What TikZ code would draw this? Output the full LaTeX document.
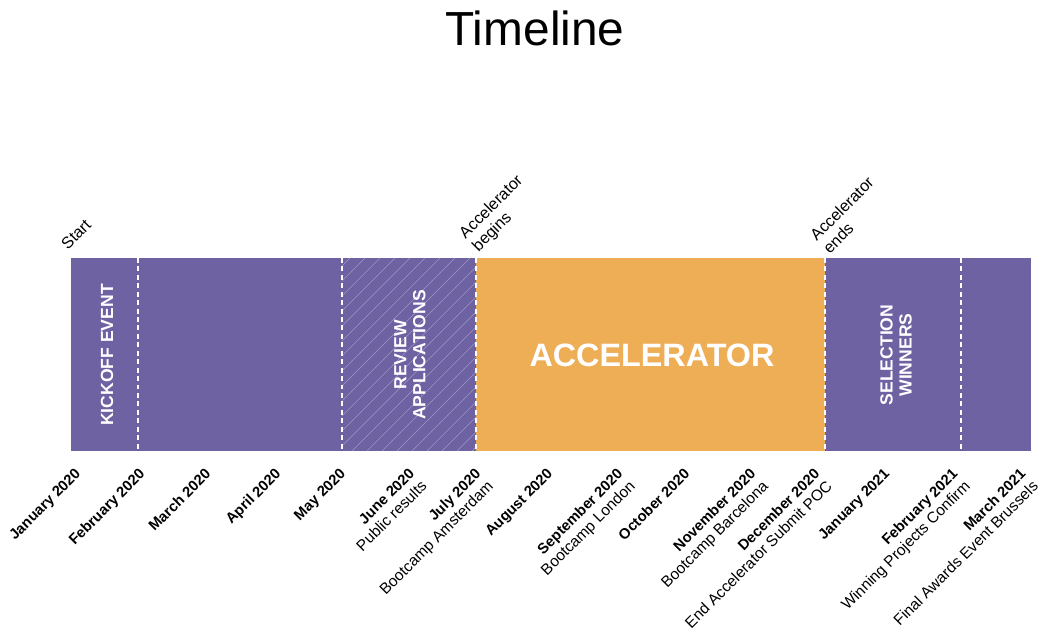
\documentclass[tikz,border=0pt]{standalone}
\usepackage{fontspec}
\setmainfont{Liberation Sans}
\usetikzlibrary{positioning}
\definecolor{phasepurple}{RGB}{110,98,163}
\definecolor{accorange}{RGB}{238,174,86}
\tikzstyle{title} = [font=\fontsize{34}{40}\selectfont, text=black]
\tikzstyle{phaselabel} = [rotate=90, align=center, text=white, font=\bfseries\fontsize{12.5}{13.5}\selectfont]
\tikzstyle{bigphase} = [text=white, font=\bfseries\fontsize{23}{26}\selectfont]
\tikzstyle{monthlabel} = [rotate=45, anchor=north east, align=right, inner sep=0.5pt, font=\fontsize{11}{12.5}\selectfont]
\tikzstyle{milestone} = [rotate=45, anchor=south west, align=left, inner sep=1pt, font=\fontsize{11.5}{13}\selectfont]
\tikzstyle{divider} = [white, line width=0.8pt, dash pattern=on 3.5pt off 2.5pt]
\tikzstyle{hatch} = [white, opacity=0.35, line width=0.4pt]
\newcommand{\mon}[1]{{\bfseries\fontsize{10.5}{12.5}\selectfont #1}}

\begin{document}
\begin{tikzpicture}[x=0.025cm, y=-0.025cm]
	\useasboundingbox (0,0) rectangle (1055,635);
	\node (title) [title] at (535,28) {Timeline};
	
	% bar
	\coordinate (barstart) at (68,253);
	\coordinate (accbegin) at (481,257);
	\coordinate (accend) at (830,257);
	\fill [phasepurple] (71,258) rectangle (476,451);
	\fill [accorange] (476,258) rectangle (825,451);
	\fill [phasepurple] (825,258) rectangle (1031,451);
	\begin{scope}
		\clip (342,258) rectangle (476,451);
		\foreach \i in {142,157,...,490}
			\draw [hatch] (\i,451) -- ++(210,-210);
	\end{scope}
	\foreach \x in {138,342,476,825,961}
		\draw [divider] (\x,258) -- (\x,451);
	
	\node (kickoff) [phaselabel] at (107,355) {KICKOFF EVENT};
	\node (review) [phaselabel] at (410,355) {REVIEW\\APPLICATIONS};
	\node (accel) [bigphase] at (652,355) {ACCELERATOR};
	\node (select) [phaselabel] at (896,355) {SELECTION\\WINNERS};
	
	% milestones above the bar
	\node (start) [milestone] at (barstart) {Start};
	\node (begins) [milestone] at (accbegin) {Accelerator\\begins};
	\node (ends) [milestone] at (accend) {Accelerator\\ends};
	
	% months below the bar
	\node (jan20) [monthlabel] at (74,466) {\mon{January 2020}};
	\node (feb20) [monthlabel] at (138,466) {\mon{February 2020}};
	\node (mar20) [monthlabel] at (204,466) {\mon{March 2020}};
	\node (apr20) [monthlabel] at (274,466) {\mon{April 2020}};
	\node (may20) [monthlabel] at (339,466) {\mon{May 2020}};
	\node (jun20) [monthlabel] at (408,466) {\mon{June 2020}\\Public results};
	\node (jul20) [monthlabel] at (474,466) {\mon{July 2020}\\Bootcamp Amsterdam};
	\node (aug20) [monthlabel] at (546,466) {\mon{August 2020}};
	\node (sep20) [monthlabel] at (616,466) {\mon{September 2020}\\Bootcamp London};
	\node (oct20) [monthlabel] at (683,466) {\mon{October 2020}};
	\node (nov20) [monthlabel] at (749,466) {\mon{November 2020}\\Bootcamp Barcelona};
	\node (dec20) [monthlabel] at (813,466) {\mon{December 2020}\\End Accelerator Submit POC};
	\node (jan21) [monthlabel] at (883,466) {\mon{January 2021}};
	\node (feb21) [monthlabel] at (951,466) {\mon{February 2021}\\Winning Projects Confirm};
	\node (mar21) [monthlabel] at (1019,466) {\mon{March 2021}\\Final Awards Event Brussels};
\end{tikzpicture}
\end{document}
